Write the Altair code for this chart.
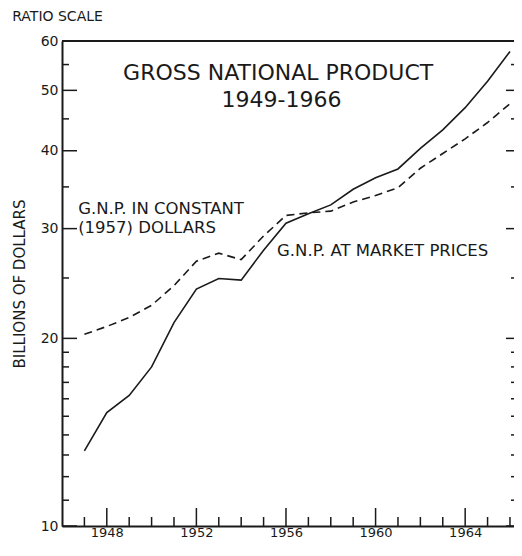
import altair as alt
import pandas as pd

# ---- data ----
years = list(range(1947, 1967))
gnp_market = [13.2, 15.2, 16.2, 18.0, 21.2, 24.0, 24.95, 24.8, 27.7, 30.6,
              31.7, 32.75, 34.7, 36.2, 37.4, 40.35, 43.2, 46.9, 51.7, 57.7]
gnp_constant = [20.3, 20.9, 21.6, 22.6, 24.3, 26.6, 27.4, 26.75, 29.2, 31.5,
                31.8, 32.0, 33.1, 33.9, 34.9, 37.5, 39.6, 41.8, 44.4, 47.6]

y_major = [10, 20, 30, 40, 50, 60]
y_minor = [11, 12, 13, 14, 15, 16, 17, 18, 19, 25, 35, 45, 55]
x_major = [1948, 1952, 1956, 1960, 1964]
x_minor = [y for y in range(1947, 1967) if y not in x_major]

title_lines = ["GROSS NATIONAL PRODUCT", "1949-1966"]
title_x = [1955.65, 1955.8]
title_y = [53.4, 48.2]

label_texts = ["G.N.P. IN CONSTANT", "(1957) DOLLARS", "G.N.P. AT MARKET PRICES"]
label_x = [1946.72, 1946.72, 1955.6]
label_y = [32.3, 30.05, 27.6]

FONT = "DejaVu Sans"
W, H = 452, 485
INK = "#1a1a1a"

xscale = alt.Scale(domain=[1946, 1966.18], nice=False, zero=False)
yscale = alt.Scale(type="log", domain=[10, 60], nice=False)

X_AXIS = alt.Axis(values=x_major, format="d", ticks=False, grid=False,
                  domainColor=INK, domainWidth=2, labelFontSize=13,
                  labelPadding=0, labelColor=INK, labelFont=FONT, title=None)
Y_AXIS = alt.Axis(values=y_major, format="d", ticks=False, grid=False,
                  domainColor=INK, domainWidth=2, labelFontSize=14,
                  labelPadding=4, labelColor=INK, labelFont=FONT,
                  title="BILLIONS OF DOLLARS", titleFontSize=15,
                  titleFontWeight="normal", titleFont=FONT,
                  titleColor=INK, titlePadding=13)

def X(field):
    return alt.X(field, scale=xscale, axis=X_AXIS)

def Y(field):
    return alt.Y(field, scale=yscale, axis=Y_AXIS)

df = pd.DataFrame({"year": years, "market": gnp_market, "constant": gnp_constant})

market = alt.Chart(df).mark_line(color=INK, strokeWidth=1.6).encode(
    x=X("year:Q"), y=Y("market:Q"))

constant = alt.Chart(df).mark_line(color=INK, strokeWidth=1.6, strokeDash=[8, 5]).encode(
    x=X("year:Q"), y=Y("constant:Q"))

ymaj = pd.DataFrame({"v": y_major})
ymin = pd.DataFrame({"v": y_minor})
xmaj = pd.DataFrame({"yr": x_major})
xmin = pd.DataFrame({"yr": x_minor})

def yticks(d, x0, x1):
    return alt.Chart(d).mark_rule(color=INK, strokeWidth=1.5).encode(
        y=Y("v:Q"), x=alt.value(x0), x2=alt.value(x1))

def xticks(d, length):
    return alt.Chart(d).mark_rule(color=INK, strokeWidth=1.5).encode(
        x=X("yr:Q"), y=alt.value(H), y2=alt.value(H - length))

top_line = alt.Chart(ymaj).mark_rule(color=INK, strokeWidth=2).encode(
    x=alt.value(0), x2=alt.value(W), y=alt.value(0))

tdf = pd.DataFrame({"x": title_x, "y": title_y, "t": title_lines})
titles = alt.Chart(tdf).mark_text(font=FONT, fontSize=22, color=INK, align="center",
                                  baseline="middle").encode(
    x=X("x:Q"), y=Y("y:Q"), text="t:N")

ldf = pd.DataFrame({"x": label_x, "y": label_y, "t": label_texts})
labels = alt.Chart(ldf).mark_text(font=FONT, fontSize=16.5, color=INK, align="left",
                                  baseline="middle").encode(
    x=X("x:Q"), y=Y("y:Q"), text="t:N")

chart = alt.layer(
    market, constant,
    yticks(ymaj, 0, 15), yticks(ymin, 0, 7),
    yticks(ymaj, W - 8, W), yticks(ymin, W - 3, W),
    xticks(xmaj, 18), xticks(xmin, 9),
    top_line, titles, labels,
).properties(
    width=W, height=H,
    title=alt.TitleParams("RATIO SCALE", anchor="start", frame="bounds", fontSize=14,
                          fontWeight="normal", font=FONT, color=INK, offset=10),
    autosize=alt.AutoSizeParams(type="none"),
    padding={"left": 54, "top": 33, "right": 0, "bottom": 15},
).configure_view(stroke=None).configure(background="white")

chart.save("out.html", embed_options={"renderer": "svg", "actions": False})
